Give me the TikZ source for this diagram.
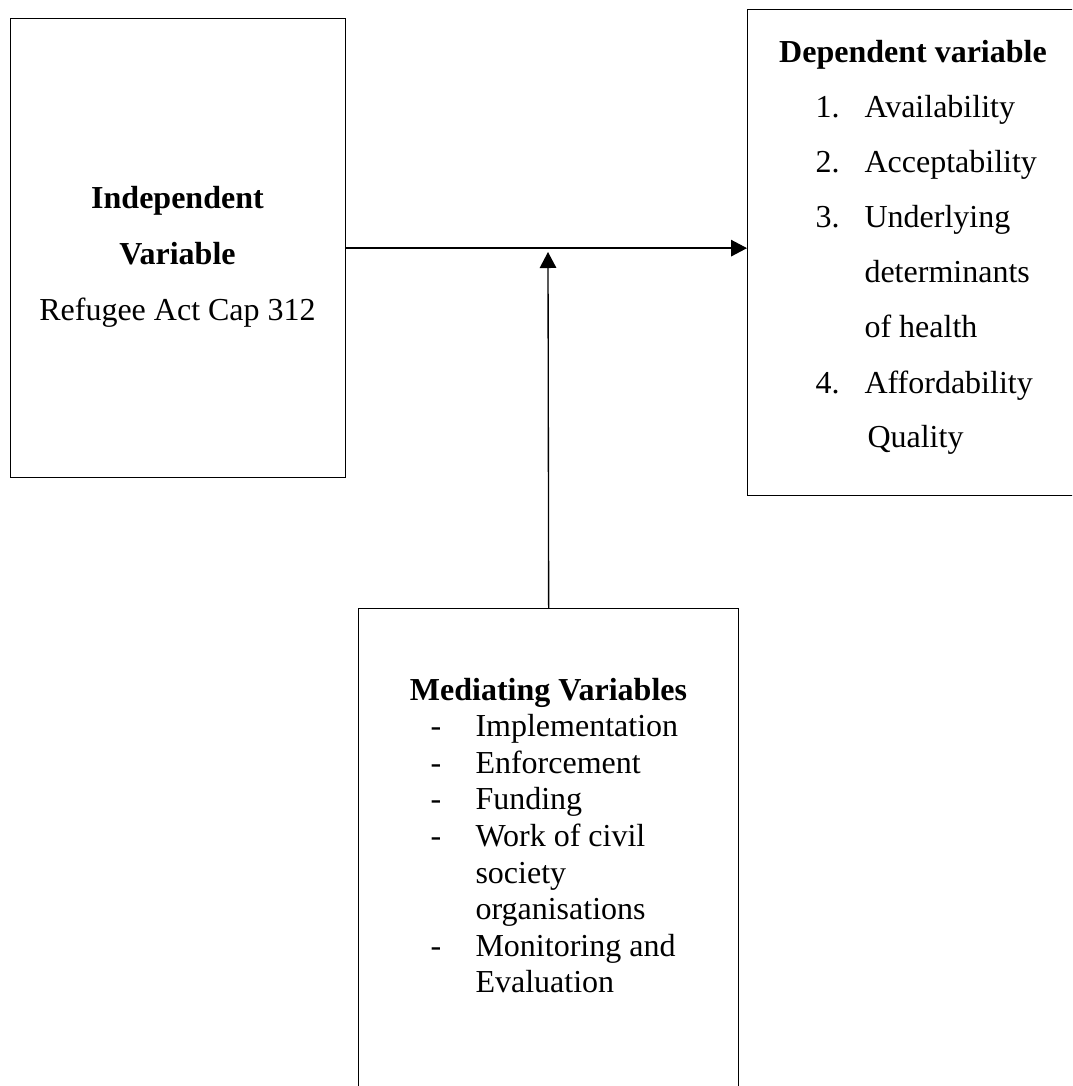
\documentclass[tikz,border=0pt]{standalone}
\usepackage{fontspec}
\setmainfont{Liberation Serif}
\usetikzlibrary{arrows.meta,positioning}
\tikzset{
	x=0.375pt, y=-0.375pt, % one unit is one pixel of the layout
	varbox/.style={draw, line width=0.5pt, inner sep=0pt, anchor=north west},
	line/.style={anchor=base west, inner sep=0pt, font=\fontsize{12}{14}\selectfont},
	head/.style={anchor=base, inner sep=0pt, font=\fontsize{12}{14}\selectfont\bfseries},
	link/.style={-{Triangle[length=6pt,width=6.2pt]}, line width=0.5pt},
}

\begin{document}
\begin{tikzpicture}
      \useasboundingbox (0,0) rectangle (1072,1086);
      \clip (0,0) rectangle (1072,1086);

      % boxes
      \node[varbox, minimum width=125.6pt, minimum height=172.1pt] (indep) at (10,18) {};
      \node[varbox, minimum width=135pt, minimum height=182.3pt] (dep) at (747,9) {};
      \node[varbox, minimum width=142.5pt, minimum height=190pt] (med) at (358,608) {};

      % independent variable
      \node[head] (indhead) at (177.5,208) {Independent};
      \node[head] (indhead2) at (177.5,264) {Variable};
      \node[line, anchor=base] (indact) at (177.5,320) {Refugee Act Cap 312};

      % dependent variable
      \node[head] (dephead) at (913,62) {Dependent variable};
      \foreach \y/\num [count=\i] in {117/1., 172/2., 227/3., 393/4.}
        \node[line] (depnum\i) at (815,\y) {\num};
      \foreach \y/\txt [count=\i] in {117/Availability, 172/Acceptability, 227/Underlying,
          282/determinants, 337/of health, 393/Affordability}
        \node[line] (dep\i) at (864,\y) {\txt};
      \node[line] (depq) at (867,447) {Quality};

      % mediating variables
      \node[head] (medhead) at (548.5,700) {Mediating Variables};
      \foreach \txt [count=\i] in {Implementation, Enforcement, Funding, Work of civil,
          society, organisations, Monitoring and, Evaluation}
        \node[line] (med\i) at (475,700+36.6*\i) {\txt};
      \foreach \i in {1,2,3,4,7}
        \node[line] (dash\i) at (430,700+36.6*\i) {-};

      % connectors
      \coordinate (meet) at (548,252);
      \draw[link] (indep.east) -- (indep.east -| dep.west);
      \draw[link] (med.north) -- (meet);
\end{tikzpicture}
\end{document}
